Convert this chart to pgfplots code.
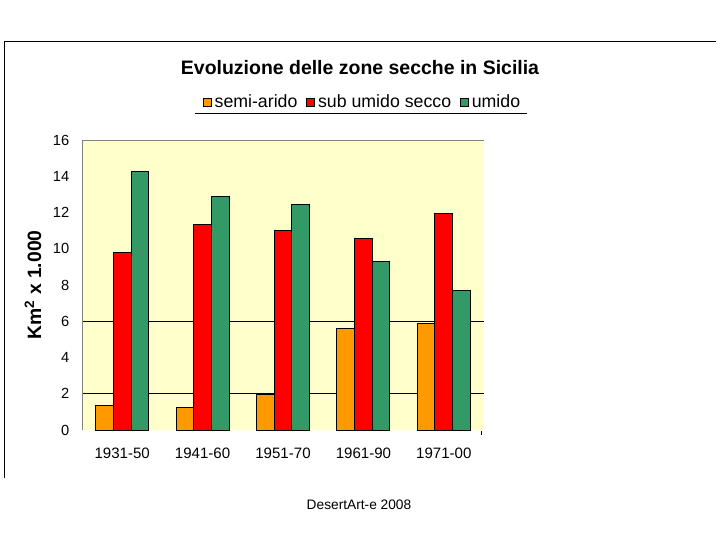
\documentclass[border=0pt]{standalone}
\usepackage{fontspec}
\setmainfont{Liberation Sans}
\usepackage{pgfplots}
\pgfplotsset{compat=1.18}
\definecolor{cOrange}{HTML}{FF9900}
\definecolor{cRed}{HTML}{FF0000}
\definecolor{cGreen}{HTML}{339966}
\definecolor{cBg}{HTML}{FFFFCC}
\begin{document}
\begin{tikzpicture}
\begin{scope}[x=0.75pt,y=-0.75pt]
\path[use as bounding box] (0,0) rectangle (720,540);
\draw[line width=0.75pt] (4,478) -- (4,41) -- (716,41);
\node[font=\bfseries\fontsize{14.6}{16}\selectfont, anchor=base] at (360,74) {Evoluzione delle zone secche in Sicilia};
\draw[line width=0.75pt] (195,113) -- (527,113);
\node[font=\fontsize{10.3}{12}\selectfont, anchor=base] at (359,509) {DesertArt-e 2008};
\draw[line width=0.75pt] (481,431) -- (481,435);
\end{scope}
\begin{axis}[
  at={(61.5pt,-322.5pt)}, anchor=south west,
  scale only axis, width=301.5pt, height=217.5pt,
  xmin=-0.5, xmax=4.5, ymin=0, ymax=16,
  ytick={0,2,...,16},
  xtick={0,1,2,3,4},
  xticklabels={1931-50,1941-60,1951-70,1961-90,1971-00},
  major tick length=0pt,
  axis line style={draw=none},
  axis background/.style={fill=cBg},
  ybar=0pt, bar width=0.22,
  extra y ticks={2,6}, extra y tick labels={},
  extra y tick style={grid=major, major grid style={black, line width=0.75pt}},
  tick label style={font=\fontsize{11}{13}\selectfont},
  xticklabel style={font=\fontsize{11.3}{13}\selectfont},
  /pgf/number format/assume math mode=true,
  yticklabel style={inner sep=0pt, xshift=-9.4pt},
  xticklabel style={inner sep=0pt, yshift=-13pt},
  ylabel={Km\textsuperscript{2} x 1.000},
  ylabel style={at={(axis description cs:-0.1219,0.5)}, anchor=center, font=\bfseries\fontsize{14.5}{16}\selectfont},
  every axis plot post/.append style={legend image code/.code={\draw[#1,draw=black,line width=0.5pt] (0pt,-3pt) rectangle (6pt,3pt);}},
  legend columns=3,
  legend style={draw=none, fill=none, at={(axis description cs:0.695,1.131)}, anchor=center,
    font=\fontsize{13.3}{15}\selectfont, nodes={inner sep=0pt},
    /tikz/every odd column/.append style={column sep=2.5pt},
    /tikz/every even column/.append style={column sep=6.5pt}},
]
\addplot[fill=cOrange, draw=black, line width=0.75pt] coordinates {(0,1.34) (1,1.25) (2,1.97) (3,5.61) (4,5.85)};
\addplot[fill=cRed, draw=black, line width=0.75pt] coordinates {(0,9.8) (1,11.35) (2,11.0) (3,10.54) (4,11.96)};
\addplot[fill=cGreen, draw=black, line width=0.75pt] coordinates {(0,14.29) (1,12.9) (2,12.45) (3,9.3) (4,7.71)};
\legend{semi-arido, sub umido secco, umido}
\draw[gray, line width=0.75pt] (rel axis cs:0,0) -- (rel axis cs:0,1) -- (rel axis cs:1,1);
\end{axis}
\end{tikzpicture}
\end{document}
